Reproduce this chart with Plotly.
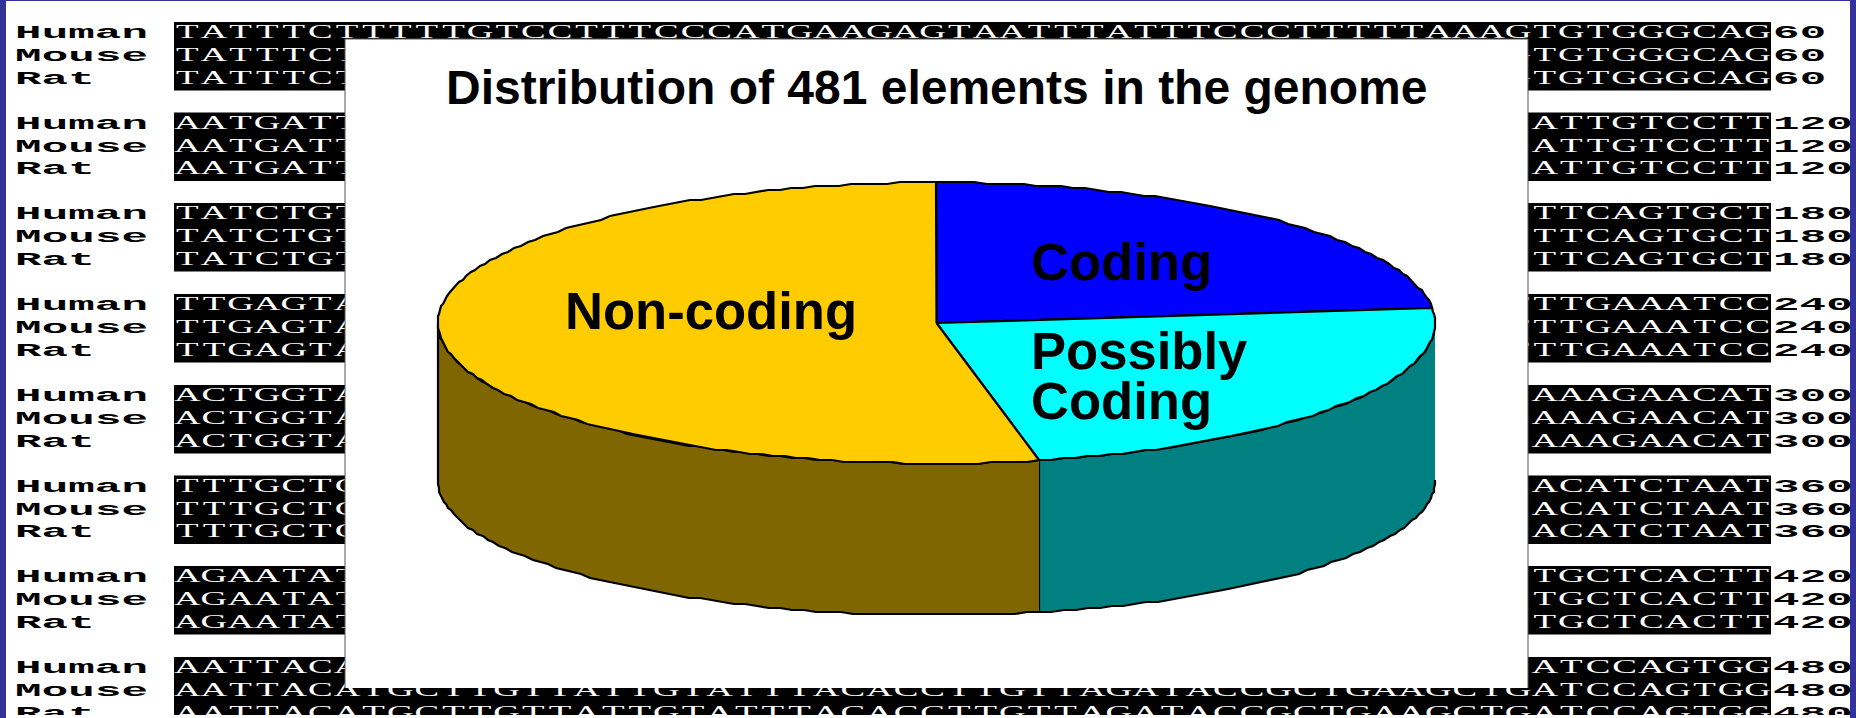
"""Alignment slide with the 3D pie of element classes laid over it."""
import json

import numpy as np
import plotly.graph_objects as go

# ----- data -----
species = ["Human", "Mouse", "Rat"]
end_positions = [60, 120, 180, 240, 300, 360, 420, 480]
left_seq = ["TATTTCT", "AATGATT", "TATCTGT", "TTGAGTA",
            "ACTGGTA", "TTTGCTC", "AGAATAT", "AATTACA"]
right_seq = ["GTGTGGGCAG", "ATTGTCCTT", "TTCAGTGCT", "TTTGAAATCC",
             "AAAGAACAT", "ACATCTAAT", "TGCTCACTT", "ATCCAGTGG"]
human_row_1 = "TATTTCTTTTTGTCCTTTCCCATGAAGAGTAATTTATTTCCCTTTTTAAAGTGTGGGCAG"
mouse_row_8 = "AATTACATGCTTGTTATTGTATTTACACCTTGTTAGATACCGCTGAAGCTGATCCAGTGG"
rat_row_8 = "AATTACATGCTTGTTATTGTATTTACACCTTGTTAGATACCGCTGAAGCTGATCCAGTGG"

pie_labels = ["Coding", "Possibly coding", "Non-coding"]
pie_shares = [23.3, 23.4, 53.3]

# ----- page geometry, in screen pixels -----
W, H = 1856, 718
SEQ_X0, SEQ_X1 = 174, 1771
CELL = (SEQ_X1 - SEQ_X0) / 60
BLOCK_Y = [22, 112.5, 203, 294, 385, 475.5, 566, 657]
ROW_OFFSET = [12, 35, 57.5]
PANEL = (345, 1528, 39, 688)
CX, CY, RX, RY = 936.5, 323, 498.5, 140.5
WALL_DROP, WALL_RY = 158, 134  # lower rim is a slightly flatter ellipse

TOP_COLORS = ["#0000FF", "#00FFFF", "#FFCC00"]
SIDE_COLORS = [None, "#008080", "#806600"]
STRETCH = {"Liberation Serif": 2.05, "Liberation Mono": 2.45}

traces = []


def add_chars(xs, ys, chars, family, bold, color):
    traces.append(go.Scatter(
        x=xs, y=ys, text=chars, mode="text", textposition="middle center",
        textfont=dict(family=family, size=18, color=color,
                      weight="bold" if bold else "normal"),
        hoverinfo="skip", showlegend=False,
    ))


def add_poly(xs, ys, fill, line="black", width=2.2):
    traces.append(go.Scatter(
        x=xs, y=ys, mode="lines", fill="toself", fillcolor=fill,
        line=dict(color=line, width=width), hoverinfo="skip", showlegend=False,
    ))


def rim(t0, t1, dy=0.0, ry=RY):
    # small steps, the source picture's rim is visibly stair-stepped
    t = np.radians(np.linspace(t0, t1, max(2, int(abs(t1 - t0) / 1.4))))
    x = CX + RX * np.sin(t)
    y = CY + dy - ry * np.cos(t)
    return np.round(x), np.round(y / 2) * 2


# ----- alignment text -----
seq_x, seq_y, seq_c = [], [], []
lab_x, lab_y, lab_c = [], [], []
for b, top in enumerate(BLOCK_Y):
    for s, name in enumerate(species):
        y = top + ROW_OFFSET[s]
        row = left_seq[b] + " " * (60 - len(left_seq[b]) - len(right_seq[b])) + right_seq[b]
        if b == 0 and name == "Human":
            row = human_row_1
        if b == 7 and name == "Mouse":
            row = mouse_row_8
        if b == 7 and name == "Rat":
            row = rat_row_8
        for i, ch in enumerate(row):
            if ch != " ":
                seq_x.append(SEQ_X0 + (i + 0.5) * CELL)
                seq_y.append(y)
                seq_c.append(ch)
        for i, ch in enumerate(name):
            lab_x.append(15 + (i + 0.5) * CELL)
            lab_y.append(y)
            lab_c.append(ch)
        for i, ch in enumerate(str(end_positions[b])):
            lab_x.append(SEQ_X1 + 2 + (i + 0.5) * CELL)
            lab_y.append(y)
            lab_c.append(ch)

add_chars(seq_x, seq_y, seq_c, "Liberation Serif", False, "white")
add_chars(lab_x, lab_y, lab_c, "Liberation Mono", True, "black")

# white panel and bottom strip hide the text running underneath them
px0, px1, py0, py1 = PANEL
traces.append(go.Scatter(
    x=[px0, px0, px1, px1], y=[py1, py0, py0, py1], mode="lines", fill="toself",
    fillcolor="white", line=dict(color="#555555", width=1),
    hoverinfo="skip", showlegend=False,
))
add_poly([6, 6, 1850, 1850], [715, 718, 718, 715], "white", "white", 0)

# ----- pie -----
edges = np.concatenate([[0], np.cumsum(pie_shares) / sum(pie_shares) * 360])

# side walls first, only the part of each slice facing the viewer
for i, color in enumerate(SIDE_COLORS):
    if color is None:
        continue
    t0 = max(edges[i], 90)
    t1 = min(edges[i + 1], 270)
    bx, by = rim(t0, t1, WALL_DROP, WALL_RY)
    tx, ty = rim(t1, t0)
    add_poly(np.concatenate([bx, tx]), np.concatenate([by, ty]), color)

for i, color in enumerate(TOP_COLORS):
    ax, ay = rim(edges[i], edges[i + 1])
    add_poly(np.concatenate([[CX], ax, [CX]]), np.concatenate([[CY], ay, [CY]]), color)

fig = go.Figure(data=traces)


def label(x, y, text, size=52.6):
    fig.add_annotation(x=x, y=y, text=f"<b>{text}</b>", showarrow=False, xanchor="left",
                       yanchor="middle", font=dict(family="Liberation Sans", size=size, color="black"))


label(444, 87, "Distribution of 481 elements in the genome", 48)
label(563, 310, "Non-coding")
label(1029, 261, "Coding")
label(1029, 350, "Possibly")
label(1029, 400, "Coding")

shapes = [
    dict(type="rect", x0=0, x1=6, y0=0, y1=H, fillcolor="#333399", line_width=0, layer="below"),
    dict(type="rect", x0=1850, x1=W, y0=0, y1=H, fillcolor="#333399", line_width=0, layer="below"),
    dict(type="rect", x0=0, x1=W, y0=0, y1=1, fillcolor="#333399", line_width=0, layer="below"),
]
for top in BLOCK_Y:
    shapes.append(dict(type="rect", x0=SEQ_X0, x1=SEQ_X1, y0=top, y1=min(top + 68.5, 715),
                       fillcolor="black", line_width=0, layer="below"))

fig.update_layout(
    width=W, height=H, margin=dict(l=0, r=0, t=0, b=0),
    paper_bgcolor="white", plot_bgcolor="white", showlegend=False,
    xaxis=dict(visible=False, range=[0, W], fixedrange=True),
    yaxis=dict(visible=False, range=[H, 0], fixedrange=True),
    shapes=shapes,
)

# svg text can be stretched sideways, the source uses a very wide typewriter face
post = """
document.body.style.margin = '0';
document.body.style.overflow = 'hidden';
var stretch = %s;
document.querySelectorAll('.textpoint text').forEach(function (t) {
    var fam = t.style.fontFamily.replace(/["']/g, '');
    var sx = stretch[fam] || 2;
    var b = t.getBBox();
    var cx = b.x + b.width / 2;
    var old = t.getAttribute('transform') || '';
    t.setAttribute('transform', old + ' translate(' + cx + ',0) scale(' + sx + ',1) translate(' + (-cx) + ',0)');
});
""" % json.dumps(STRETCH)

fig.write_html("out.html", config=dict(displayModeBar=False, staticPlot=True), post_script=post)
